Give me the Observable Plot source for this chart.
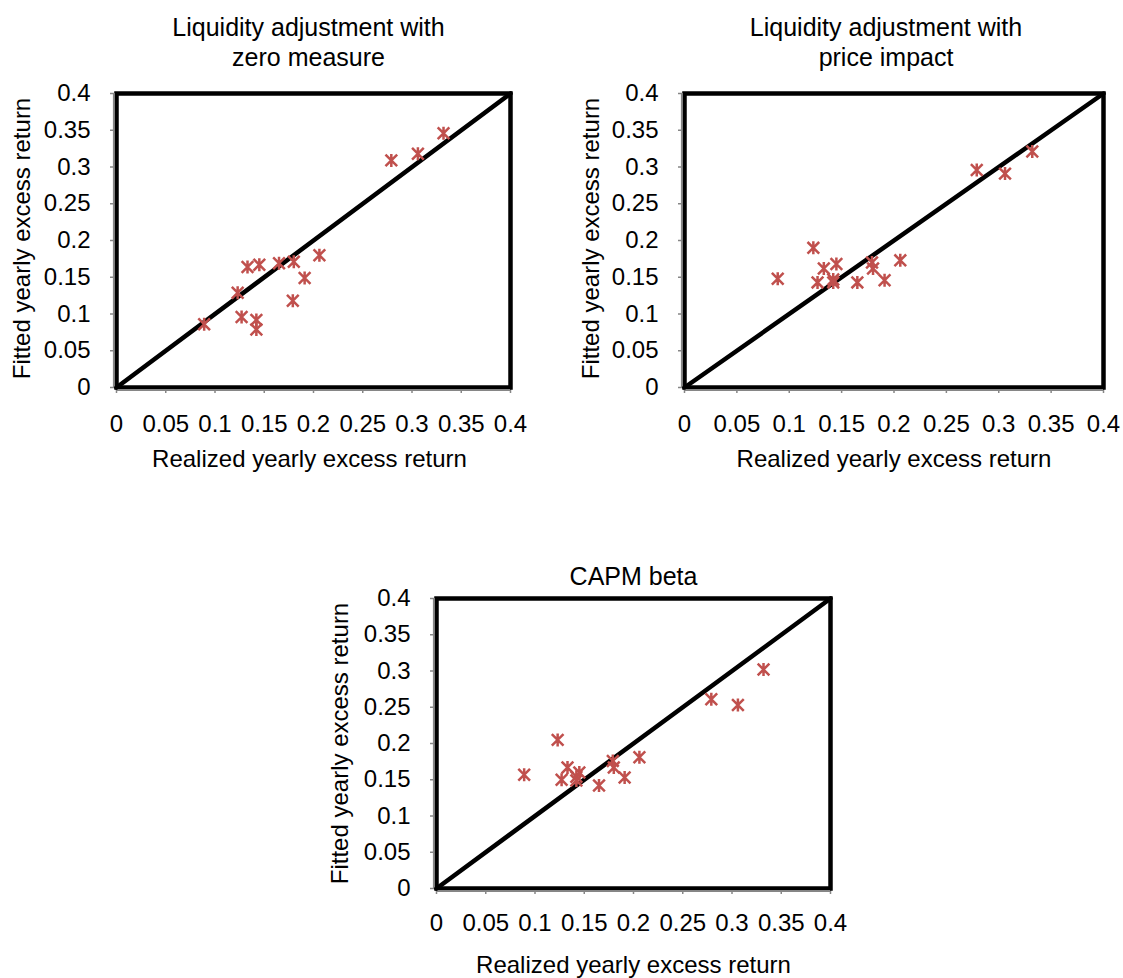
<!DOCTYPE html>
<html>
<head>
<meta charset="utf-8">
<script src="https://cdn.jsdelivr.net/npm/d3@7"></script>
<script src="https://cdn.jsdelivr.net/npm/@observablehq/plot@0.6"></script>
<style>
  html, body { margin: 0; padding: 0; background: #ffffff; }
  #root { position: relative; width: 1123px; height: 978px; overflow: hidden; font-family: "Liberation Sans", Arial, sans-serif; }
  #root svg { position: absolute; overflow: visible; }
</style>
</head>
<body>
<div id="root"></div>
<script>
// ---- data ----
const realized    = [0.089, 0.123, 0.127, 0.133, 0.142, 0.142, 0.145, 0.165, 0.179, 0.180, 0.191, 0.206, 0.279, 0.306, 0.332];
const fittedZero  = [0.086, 0.129, 0.096, 0.164, 0.092, 0.079, 0.167, 0.169, 0.118, 0.171, 0.149, 0.180, 0.309, 0.318, 0.346];
const fittedPrice = [0.148, 0.190, 0.143, 0.162, 0.147, 0.143, 0.168, 0.143, 0.170, 0.162, 0.146, 0.173, 0.296, 0.291, 0.321];
const fittedCapm  = [0.157, 0.205, 0.150, 0.167, 0.154, 0.149, 0.160, 0.142, 0.176, 0.167, 0.153, 0.181, 0.261, 0.253, 0.302];

const tickValues = [0, 0.05, 0.1, 0.15, 0.2, 0.25, 0.3, 0.35, 0.4];
const tickLabels = ["0", "0.05", "0.1", "0.15", "0.2", "0.25", "0.3", "0.35", "0.4"];
const diagonal   = [0, 0.4];

const titles = [
  "Liquidity adjustment with\nzero measure",
  "Liquidity adjustment with\nprice impact",
  "CAPM beta"
];
const xLabel = "Realized yearly excess return";
const yLabel = "Fitted yearly excess return";

// ---- styling ----
const RED = "#C0504D";
const GRAY = "#868686";
const FONT = "'Liberation Sans', Arial, sans-serif";

// Excel-like "star" marker: an X with a vertical bar
const star = {
  draw(ctx, size) {
    const r = Math.sqrt(size / Math.PI);
    const a = r * 0.9;
    ctx.moveTo(-a, -a); ctx.lineTo(a, a);
    ctx.moveTo(-a, a);  ctx.lineTo(a, -a);
    ctx.moveTo(0, -r);  ctx.lineTo(0, r);
  }
};

const fmt = (d) => tickLabels[tickValues.findIndex((t) => Math.abs(t - d) < 1e-9)];

function panel(cfg) {
  const pts = realized.map((x, i) => ({x, y: cfg.fitted[i]}));
  const plotW = cfg.plotW, plotH = cfg.plotH;
  const chart = Plot.plot({
    width: cfg.ml + plotW + cfg.mr,
    height: cfg.mt + plotH + cfg.mb,
    marginLeft: cfg.ml, marginRight: cfg.mr, marginTop: cfg.mt, marginBottom: cfg.mb,
    style: {fontFamily: FONT, fontSize: "24px", color: "black", background: "transparent"},
    x: {domain: [0, 0.4]},
    y: {domain: [0, 0.4]},
    marks: [
      // tick marks (gray)
      Plot.axisX({ticks: tickValues, tickSize: 6, strokeWidth: 1.5, stroke: GRAY, tickFormat: () => "", label: null}),
      Plot.axisY({ticks: tickValues, tickSize: 6, strokeWidth: 1.5, stroke: GRAY, tickFormat: () => "", label: null}),
      // tick labels
      Plot.axisX({ticks: tickValues, tickSize: 0, tickPadding: cfg.xPad, tickFormat: fmt, fontSize: 24, label: null}),
      Plot.axisY({ticks: tickValues, tickSize: 0, tickPadding: 26, tickFormat: fmt, fontSize: 24, label: null}),
      // plot-area border
      Plot.frame({stroke: "black", strokeWidth: 4.5}),
      Plot.ruleX([0], {stroke: GRAY, strokeWidth: 2, dx: -2.6}),
      Plot.ruleY([0], {stroke: GRAY, strokeWidth: 2, dy: 2.6}),
      // 45-degree line
      Plot.line(diagonal, {x: (d) => d, y: (d) => d, stroke: "black", strokeWidth: 4.5}),
      // points
      Plot.dot(pts, {x: "x", y: "y", symbol: star, r: 6.5, stroke: RED, strokeWidth: 2.5, fill: "none"}),
      // titles & axis labels
      Plot.text([cfg.title], {frameAnchor: "top", lineAnchor: "top", dx: cfg.titleDx, dy: cfg.titleDy, fontSize: 25, lineHeight: 1.2}),
      Plot.text([xLabel], {frameAnchor: "bottom", lineAnchor: "top", dx: cfg.xLabDx, dy: cfg.xLabDy, fontSize: 24}),
      Plot.text([yLabel], {frameAnchor: "left", textAnchor: "middle", rotate: -90, dx: cfg.yLabDx, dy: cfg.yLabDy, fontSize: 24})
    ]
  });
  chart.style.left = cfg.left + "px";
  chart.style.top = cfg.top + "px";
  document.getElementById("root").appendChild(chart);
}

panel({fitted: fittedZero, title: titles[0], left: 0, top: 0,
  ml: 116, mr: 50, mt: 93, mb: 103, plotW: 394, plotH: 294,
  xPad: 27, titleDx: -5, titleDy: -79, xLabDx: -4, xLabDy: 62, yLabDx: -94, yLabDy: -2});

panel({fitted: fittedPrice, title: titles[1], left: 568, top: 0,
  ml: 116, mr: 20, mt: 93, mb: 103, plotW: 419, plotH: 294,
  xPad: 27, titleDx: -8, titleDy: -79, xLabDx: 0, xLabDy: 62, yLabDx: -93, yLabDy: -2});

panel({fitted: fittedCapm, title: titles[2], left: 320, top: 500,
  ml: 116, mr: 50, mt: 98, mb: 90, plotW: 394, plotH: 290,
  xPad: 25, titleDx: 0, titleDy: -35, xLabDx: 0, xLabDy: 67, yLabDx: -96, yLabDy: 0});
</script>
</body>
</html>
